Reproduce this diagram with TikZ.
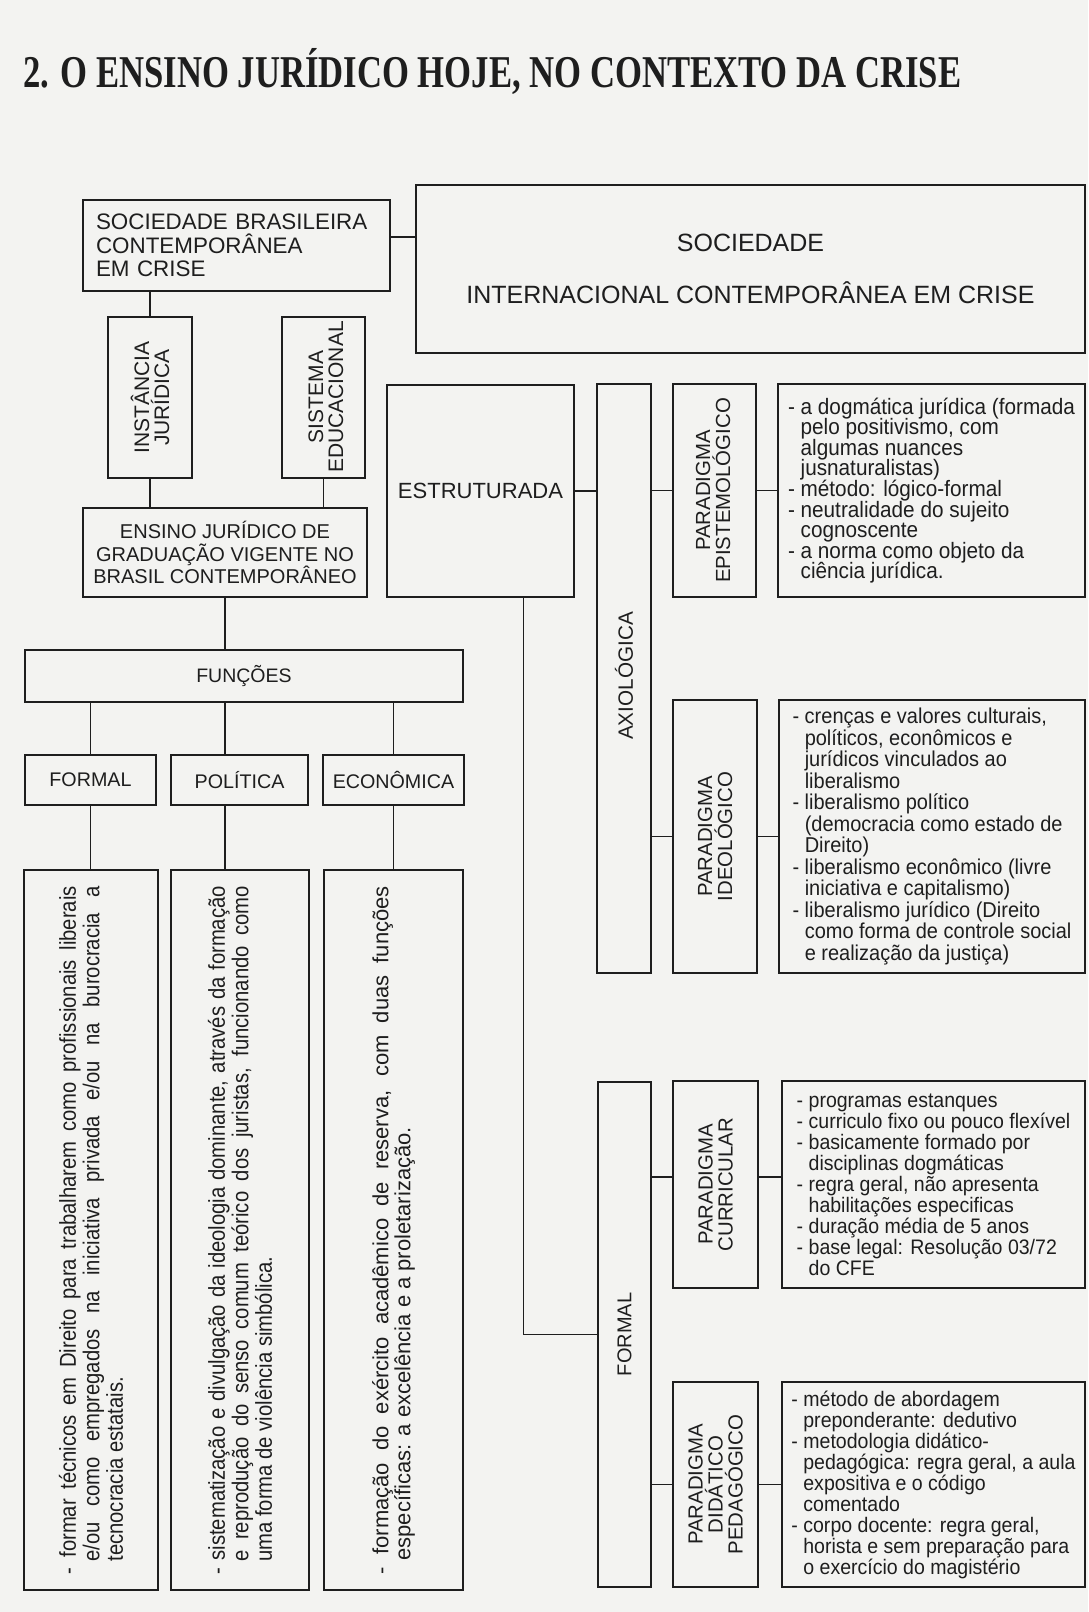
\documentclass[tikz,border=0pt]{standalone}
\usepackage{fontspec}
\usepackage{graphicx}
\setmainfont{Liberation Sans}
\newfontfamily\titlefont{Liberation Serif}
\newfontfamily\condfont{Liberation Sans}[FakeStretch=0.88]
\newfontfamily\semicond{Liberation Sans}[FakeStretch=0.93]
\usetikzlibrary{calc}
\definecolor{ink}{HTML}{1E1E1E}
\definecolor{paper}{HTML}{F3F3F1}
\newcommand\fs[2]{\fontsize{#1}{#2}\selectfont\lineskiplimit=-100pt\lineskip=0pt\relax}
\newcommand\ii{\phantom{- }}
\begin{document}
\begin{tikzpicture}[x=1pt,y=-1pt,
  box/.style={draw=ink, line width=1.5pt, inner sep=0pt, text=ink},
  link/.style={draw=ink, line width=1.5pt},
  vlabel/.style={rotate=90, align=center, inner sep=0pt, text=ink},
]
\fill[paper] (0,0) rectangle (1088,1612);
\useasboundingbox (0,0) rectangle (1088,1612);

% title
\node[anchor=base west, inner sep=0pt, text=ink] (title) at (23,87)
  {\resizebox{938pt}{\height}{\titlefont\bfseries\fs{45.5}{50}2. O ENSINO JURÍDICO HOJE, NO CONTEXTO DA CRISE}};

% left column
\node[box, minimum width=307pt, minimum height=91pt, text width=281pt, inner xsep=13pt, align=left, font=\fs{22.4}{23.5}] (s1) at (236.5,245.5)
  {SOCIEDADE BRASILEIRA\\CONTEMPORÂNEA\\EM CRISE};
\node[box, minimum width=669pt, minimum height=168pt, align=center, font=\fs{25}{52}] (intl) at (750.5,269)
  {SOCIEDADE\\INTERNACIONAL CONTEMPORÂNEA EM CRISE};
\node[box, minimum width=84pt, minimum height=161pt] (inst) at (150,397.5) {};
\node[vlabel, font=\fs{21}{20}] (instl) at (inst.center) {INSTÂNCIA\\JURÍDICA};
\node[box, minimum width=83pt, minimum height=161pt] (sist) at (323.5,397.5) {};
\node[vlabel, font=\fs{21}{20}] (sistl) at (326,397) {SISTEMA\\EDUCACIONAL};
\node[box, minimum width=284pt, minimum height=89pt, align=center, font=\fs{20}{22.5}] (ens) at (225,552.5)
  {ENSINO JURÍDICO DE\\GRADUAÇÃO VIGENTE NO\\BRASIL CONTEMPORÂNEO};
\node[box, minimum width=438pt, minimum height=52pt, font=\fs{19.5}{22}] (func) at (244,676) {FUNÇÕES};
\node[box, minimum width=131pt, minimum height=50pt, font=\fs{19.7}{22}] (formal) at (90.5,780) {FORMAL};
\node[box, minimum width=137pt, minimum height=50pt, font=\fs{19.7}{22}] (pol) at (239.5,780) {POLÍTICA};
\node[box, minimum width=141pt, minimum height=50pt, font=\fs{19.7}{22}] (eco) at (393.5,780) {ECONÔMICA};

\node[box, minimum width=134pt, minimum height=720pt] (t1) at (91,1230)
  {\rotatebox{90}{\parbox{688pt}{\condfont\fs{23}{23.5}\hangindent=12.4pt\hangafter=1 - formar técnicos em Direito para trabalharem como profissionais liberais\linebreak e/ou como empregados na iniciativa privada e/ou na burocracia a\linebreak tecnocracia estatais.}}};
\node[box, minimum width=138pt, minimum height=720pt] (t2) at (240,1230)
  {\rotatebox{90}{\parbox{688pt}{\condfont\fs{23}{23.5}\hangindent=12.4pt\hangafter=1 - sistematização e divulgação da ideologia dominante, através da formação\linebreak e reprodução do senso comum teórico dos juristas, funcionando como\linebreak uma forma de violência simbólica.}}};
\node[box, minimum width=139pt, minimum height=720pt] (t3) at (393.5,1230)
  {\rotatebox{90}{\parbox{688pt}{\fs{22}{22}\hangindent=13.4pt\hangafter=1 - formação do exército acadêmico de reserva, com duas funções\linebreak específicas: a excelência e a proletarização.}}};

% right part
\node[box, minimum width=187pt, minimum height=212pt, font=\fs{22}{24}] (estr) at (480.5,491) {ESTRUTURADA};
\node[box, minimum width=54pt, minimum height=589pt] (axio) at (624,678.5) {};
\node[vlabel, font=\fs{20.7}{20}] (axiol) at (624,676) {AXIOLÓGICA};
\node[box, minimum width=83pt, minimum height=213pt] (epis) at (714.5,490.5) {};
\node[vlabel, font=\fs{20.4}{20}] (episl) at (713,490.5) {PARADIGMA\\EPISTEMOLÓGICO};
\node[box, minimum width=307pt, minimum height=213pt, align=left, font=\semicond\fs{22.3}{20.6}] (epit) at (931.5,490.5)
  {- a dogmática jurídica (formada\\\ii pelo positivismo, com\\\ii algumas nuances\\\ii jusnaturalistas)\\- método: lógico-formal\\- neutralidade do sujeito\\\ii cognoscente\\- a norma como objeto da\\\ii ciência jurídica.};
\node[box, minimum width=84pt, minimum height=273pt] (ideo) at (715,836.5) {};
\node[vlabel, font=\fs{20.4}{20}] (ideol) at (ideo.center) {PARADIGMA\\IDEOLÓGICO};
\node[box, minimum width=306pt, minimum height=273pt, align=left, font=\semicond\fs{21.5}{21.5}] (ideot) at (932,836.5)
  {- crenças e valores culturais,\\\ii políticos, econômicos e\\\ii jurídicos vinculados ao\\\ii liberalismo\\- liberalismo político\\\ii (democracia como estado de\\\ii Direito)\\- liberalismo econômico (livre\\\ii iniciativa e capitalismo)\\- liberalismo jurídico (Direito\\\ii como forma de controle social\\\ii e realização da justiça)};
\node[box, minimum width=53pt, minimum height=505pt] (formal2) at (624.5,1334.5) {};
\node[vlabel, font=\fs{20}{20}] (formal2l) at (formal2.center) {FORMAL};
\node[box, minimum width=85pt, minimum height=207pt] (curr) at (715.5,1184.5) {};
\node[vlabel, font=\fs{20.4}{20}] (currl) at (curr.center) {PARADIGMA\\CURRICULAR};
\node[box, minimum width=303pt, minimum height=207pt, align=left, font=\semicond\fs{21}{21}] (currt) at (933.5,1184.5)
  {- programas estanques\\- curriculo fixo ou pouco flexível\\- basicamente formado por\\\ii disciplinas dogmáticas\\- regra geral, não apresenta\\\ii habilitações especificas\\- duração média de 5 anos\\- base legal: Resolução 03/72\\\ii do CFE};
\node[box, minimum width=85pt, minimum height=205pt] (dida) at (715.5,1484.5) {};
\node[vlabel, font=\fs{20.4}{20}] (dial) at (dida.center) {PARADIGMA\\DIDÁTICO\\PEDAGÓGICO};
\node[box, minimum width=303pt, minimum height=205pt, align=left, font=\semicond\fs{21}{21}] (didat) at (933.5,1484.5)
  {- método de abordagem\\\ii preponderante: dedutivo\\- metodologia didático-\\\ii pedagógica: regra geral, a aula\\\ii expositiva e o código\\\ii comentado\\- corpo docente: regra geral,\\\ii horista e sem preparação para\\\ii o exercício do magistério};

% connectors, left
\coordinate (c1) at ([yshift=8.5pt]s1.east);
\draw[link] (c1) -- (c1 -| intl.west);
\draw[link] (inst.north) -- (inst.north |- s1.south);
\draw[link] (inst.south) -- (inst.south |- ens.north);
\draw[link] (sist.south) -- (sist.south |- ens.north);
\draw[link] (ens.south) -- (ens.south |- func.north);
\draw[link] (formal.north) -- (formal.north |- func.south);
\draw[link] (ens.south |- func.south) -- (ens.south |- pol.north);
\draw[link] (eco.north) -- (eco.north |- func.south);
\draw[link] (formal.south) -- (formal.south |- t1.north);
\draw[link] (ens.south |- pol.south) -- (ens.south |- t2.north);
\draw[link] (eco.south) -- (eco.south |- t3.north);

% connectors, right
\draw[link] (estr.east) -- (estr.east -| axio.west);
\draw[link] (epis.west) -- (epis.west -| axio.east);
\draw[link] (epis.east) -- (epit.west);
\draw[link] (ideo.west) -- (ideo.west -| axio.east);
\draw[link] (ideo.east) -- (ideot.west);
\coordinate (ef) at ($(estr.south west)!0.727!(estr.south east)$);
\draw[link] (ef) |- (formal2.west);
\coordinate (cl) at ([yshift=7.5pt]curr.west);
\draw[link] (cl) -- (cl -| formal2.east);
\coordinate (cr) at ([yshift=7.5pt]curr.east);
\draw[link] (cr) -- (cr -| currt.west);
\draw[link] (dida.west) -- (dida.west -| formal2.east);
\draw[link] (dida.east) -- (didat.west);
\end{tikzpicture}
\end{document}
